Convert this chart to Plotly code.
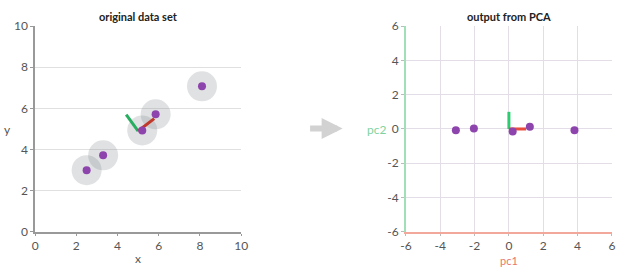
import plotly.graph_objects as go

# ---- data ----
orig_x = [2.5, 3.3, 5.2, 5.85, 8.1]
orig_y = [3.0, 3.72, 4.93, 5.71, 7.07]
pc_origin = [5.0, 4.9]
pc1_end = [5.78, 5.5]
pc2_end = [4.42, 5.7]

pca_x = [-3.09, -2.04, 0.22, 1.22, 3.82]
pca_y = [-0.07, 0.03, -0.15, 0.13, -0.07]
pca_pc1 = [[0, 1], [0, 0]]
pca_pc2 = [[0, 0], [0, 1]]

left_ticks = [0, 2, 4, 6, 8, 10]
right_ticks = [-6, -4, -2, 0, 2, 4, 6]
right_ticktext = ["-6", "-4", "-2", "0", "2", "4", "6"]

FONT = "Lato"
TICKC = "#555"

# page shows the figure inside an 8px body margin -> effective drawing area
OFF, W, H = 8, 624, 254


def px(X):
    return (X - OFF) / W


def py(Y):
    return 1 - (Y - OFF) / H


fig = go.Figure()

# halos around original points (semi-transparent so overlaps darken)
fig.add_trace(go.Scatter(x=orig_x, y=orig_y, mode="markers", xaxis="x", yaxis="y",
                         marker=dict(size=30, color="rgba(140,146,152,0.28)", line=dict(width=0)),
                         hoverinfo="skip"))
# PC vectors on original data
fig.add_trace(go.Scatter(x=[pc_origin[0], pc2_end[0]], y=[pc_origin[1], pc2_end[1]], mode="lines",
                         xaxis="x", yaxis="y", line=dict(color="#27ae60", width=3)))
fig.add_trace(go.Scatter(x=[pc_origin[0], pc1_end[0]], y=[pc_origin[1], pc1_end[1]], mode="lines",
                         xaxis="x", yaxis="y", line=dict(color="#c0392b", width=3)))
fig.add_trace(go.Scatter(x=orig_x, y=orig_y, mode="markers", xaxis="x", yaxis="y",
                         marker=dict(size=8, color="#8e44ad")))

# PCA output
fig.add_trace(go.Scatter(x=pca_pc2[0], y=pca_pc2[1], mode="lines", xaxis="x2", yaxis="y2",
                         line=dict(color="#2ecc71", width=3)))
fig.add_trace(go.Scatter(x=pca_pc1[0], y=pca_pc1[1], mode="lines", xaxis="x2", yaxis="y2",
                         line=dict(color="#e74c3c", width=3)))
fig.add_trace(go.Scatter(x=pca_x, y=pca_y, mode="markers", xaxis="x2", yaxis="y2",
                         marker=dict(size=8, color="#8e44ad")))

ydom = [py(231), py(26)]
tickfont = dict(family=FONT, size=12, color=TICKC)

fig.update_layout(
    width=640, height=270,
    margin=dict(l=0, r=0, t=0, b=0),
    paper_bgcolor="white", plot_bgcolor="white",
    showlegend=False,
    xaxis=dict(domain=[px(37), px(242)], range=[0, 10], tickvals=left_ticks,
               showgrid=False, zeroline=False, showline=True, linecolor="#999", linewidth=1.5,
               ticks="outside", ticklen=2, tickcolor="#999", tickfont=tickfont, anchor="y"),
    yaxis=dict(domain=ydom, range=[0, 10], tickvals=left_ticks,
               showgrid=True, gridcolor="#e0e0e0", gridwidth=1, zeroline=False,
               showline=True, linecolor="#999", linewidth=1.5,
               ticks="outside", ticklen=3, tickcolor="#999", tickfont=tickfont, anchor="x"),
    xaxis2=dict(domain=[px(406), px(611)], range=[-6, 6], tickvals=right_ticks,
                ticktext=right_ticktext,
                showgrid=True, gridcolor="#e2dde6", zeroline=False, showline=True,
                linecolor="#f3a89c", linewidth=1.5, ticks="outside", ticklen=2, tickcolor="#bbb",
                tickfont=tickfont, anchor="y2"),
    yaxis2=dict(domain=ydom, range=[-6, 6], tickvals=right_ticks,
                ticktext=right_ticktext,
                showgrid=True, gridcolor="#e2dde6", zeroline=False, showline=True,
                linecolor="#9fe0b6", linewidth=1.5, ticks="outside", ticklen=3, tickcolor="#bbb",
                tickfont=tickfont, anchor="x2"),
)

ann = []
ann.append(dict(text="original data set", x=px(139.5), y=py(16), xref="paper", yref="paper",
                showarrow=False, font=dict(family=FONT, size=11, color="#222", weight="bold"),
                xanchor="center", yanchor="middle"))
ann.append(dict(text="output from PCA", x=px(508.5), y=py(16), xref="paper", yref="paper",
                showarrow=False, font=dict(family=FONT, size=11, color="#222", weight="bold"),
                xanchor="center", yanchor="middle"))
ann.append(dict(text="x", x=px(139.5), y=py(258), xref="paper", yref="paper", showarrow=False,
                font=dict(family=FONT, size=12, color=TICKC), xanchor="center", yanchor="middle"))
ann.append(dict(text="y", x=px(9), y=py(129), xref="paper", yref="paper", showarrow=False,
                font=dict(family=FONT, size=12, color=TICKC), xanchor="center", yanchor="middle"))
ann.append(dict(text="pc1", x=px(508.5), y=py(260), xref="paper", yref="paper", showarrow=False,
                font=dict(family=FONT, size=11, color="#e8786b"), xanchor="center", yanchor="middle"))
ann.append(dict(text="pc2", x=px(377), y=py(129), xref="paper", yref="paper", showarrow=False,
                font=dict(family=FONT, size=12, color="#7fd3a0"), xanchor="center", yanchor="middle"))
# transition arrow between the two panels
ann.append(dict(text="", x=px(343), y=py(128), xref="paper", yref="paper",
                ax=-34, ay=0, showarrow=True, arrowhead=2, arrowsize=0.7, arrowwidth=6,
                arrowcolor="#d2d2d2"))
fig.update_layout(annotations=ann)

fig.write_html("out.html")
